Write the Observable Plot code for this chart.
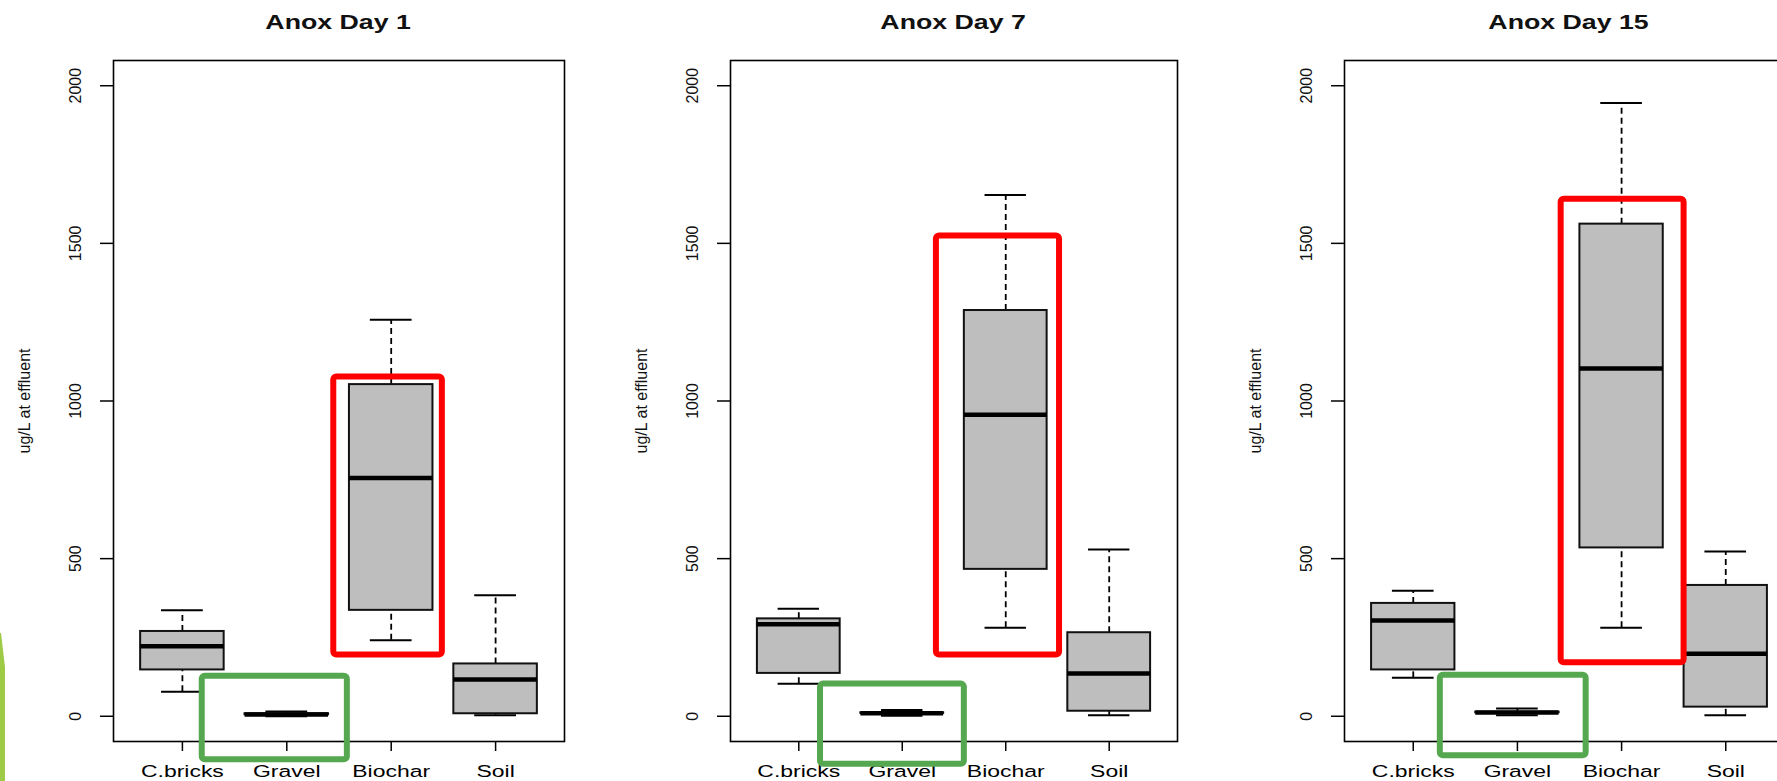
<!DOCTYPE html>
<html>
<head>
<meta charset="utf-8">
<script src="https://cdn.jsdelivr.net/npm/d3@7"></script>
<script src="https://cdn.jsdelivr.net/npm/@observablehq/plot@0.6"></script>
<style>
html,body{margin:0;padding:0;background:#fff;width:1777px;height:781px;overflow:hidden;}
#wrap{position:relative;width:1800px;height:781px;}
.panel{position:absolute;top:0;width:600px;height:781px;}
.title{position:absolute;top:0;height:44px;line-height:44px;text-align:center;font-family:"Liberation Sans",Arial,sans-serif;font-weight:bold;font-size:19.5px;color:#111;white-space:nowrap;}
.title span{display:inline-block;transform:scaleX(1.37);}
.panel svg{position:absolute;top:44px;left:0;overflow:visible;}
.lime{position:absolute;left:0;top:633px;width:5px;height:148px;background:#9fca45;clip-path:polygon(0 0,1px 0,5px 34px,5px 148px,0 148px);}
g[aria-label="x-axis tick label"]{font-size:17px;}
</style>
</head>
<body>
<div id="wrap"></div>
<div class="lime"></div>
<script>
const categories = ["C.bricks", "Gravel", "Biochar", "Soil"];
const titles = ["Anox Day 1", "Anox Day 7", "Anox Day 15"];
const yTicks = [0, 500, 1000, 1500, 2000];
const yLabel = "ug/L at effluent";

// five-number summaries per category: [lower whisker, Q1, median, Q3, upper whisker]
const day1 = [[78, 147, 222, 269, 336], [0, 5, 6, 8, 15], [241, 336, 756, 1052, 1258], [3, 8, 117, 166, 384]];
const day7 = [[103, 136, 292, 309, 341], [2, 9, 10, 11, 20], [281, 466, 956, 1287, 1653], [3, 16, 136, 265, 529]];
const day15 = [[122, 147, 304, 358, 398], [3, 11, 12, 13, 25], [281, 534, 1103, 1561, 1945], [3, 29, 198, 415, 523]];

// highlight boxes in data units: [x from, x to, value from, value to]
const redBox1 = [2.45, 3.49, 194, 1076];
const redBox7 = [2.33, 3.52, 194, 1523];
const redBox15 = [2.42, 3.60, 170, 1640];
const greenBox1 = [1.19, 2.58, -138, 127];
const greenBox7 = [1.21, 2.60, -152, 102];
const greenBox15 = [1.26, 2.66, -125, 130];

const panels = [
  {stats: day1, red: redBox1, green: greenBox1, title: titles[0], left: 0, ml: 113, mr: 36},
  {stats: day7, red: redBox7, green: greenBox7, title: titles[1], left: 600, ml: 130, mr: 23},
  {stats: day15, red: redBox15, green: greenBox15, title: titles[2], left: 1200, ml: 144, mr: 6}
];

const FONT = '"Liberation Sans", Arial, Helvetica, sans-serif';

function stretch(nodes, kx, ky) {
  nodes.forEach(t => {
    let tr = t.getAttribute("transform") || "";
    const x = t.getAttribute("x");
    if (x !== null && !isNaN(+x)) { tr += ` translate(${x},0)`; t.removeAttribute("x"); }
    t.setAttribute("transform", `${tr} scale(${kx},${ky})`);
  });
}

const wrap = document.getElementById("wrap");
panels.forEach(p => {
  const rows = p.stats.map((s, i) => ({pos: i + 1, lo: s[0], q1: s[1], med: s[2], q3: s[3], hi: s[4]}));
  const toBox = b => ({x1: b[0], x2: b[1], y1: b[2], y2: b[3]});
  const div = document.createElement("div");
  div.className = "panel";
  div.style.left = p.left + "px";
  const t = document.createElement("div");
  t.className = "title";
  t.style.left = p.ml + "px";
  t.style.width = (600 - p.ml - p.mr) + "px";
  t.innerHTML = `<span>${p.title}</span>`;
  div.appendChild(t);

  const svg = Plot.plot({
    width: 600,
    height: 737,
    marginLeft: p.ml,
    marginRight: p.mr,
    marginTop: 16,
    marginBottom: 40,
    x: {type: "linear", domain: [0.34, 4.66]},
    y: {domain: [-80, 2080]},
    style: {fontFamily: FONT, fontSize: "16px", color: "#000", background: "transparent", overflow: "visible"},
    marks: [
      Plot.ruleX(rows, {x: "pos", y1: "q3", y2: "hi", stroke: "#000", strokeWidth: 1.8, strokeDasharray: "6,4"}),
      Plot.ruleX(rows, {x: "pos", y1: "lo", y2: "q1", stroke: "#000", strokeWidth: 1.8, strokeDasharray: "6,4"}),
      Plot.ruleY(rows, {y: "hi", x1: d => d.pos - 0.2, x2: d => d.pos + 0.2, stroke: "#000", strokeWidth: 2}),
      Plot.ruleY(rows, {y: "lo", x1: d => d.pos - 0.2, x2: d => d.pos + 0.2, stroke: "#000", strokeWidth: 2}),
      Plot.rect(rows, {x1: d => d.pos - 0.4, x2: d => d.pos + 0.4, y1: "q1", y2: "q3", fill: "#bebebe", stroke: "#111", strokeWidth: 2}),
      Plot.ruleY(rows, {y: "med", x1: d => d.pos - 0.4, x2: d => d.pos + 0.4, stroke: "#000", strokeWidth: 4.5}),
      Plot.frame({stroke: "#000", strokeWidth: 1.6}),
      Plot.axisX({ticks: [1, 2, 3, 4], tickFormat: d => categories[d - 1], tickSize: 10, tickPadding: 13, fontSize: 17, label: null, strokeWidth: 1.5}),
      Plot.axisY({ticks: yTicks, tickSize: 13, tickFormat: () => "", label: null, strokeWidth: 1.5}),
      Plot.text(yTicks, {y: d => d, frameAnchor: "left", text: d => String(d), rotate: -90, dx: -38, fontSize: 16, textAnchor: "middle", lineAnchor: "middle", fill: "#111", ariaLabel: "ytl"}),
      Plot.text([yLabel], {frameAnchor: "left", text: d => d, rotate: -90, dx: -89, fontSize: 16, textAnchor: "middle", lineAnchor: "middle", fill: "#111", ariaLabel: "ylab"}),
      Plot.rect([toBox(p.red)], {x1: "x1", x2: "x2", y1: "y1", y2: "y2", fill: "none", stroke: "#ff0000", strokeWidth: 6, rx: 3}),
      Plot.rect([toBox(p.green)], {x1: "x1", x2: "x2", y1: "y1", y2: "y2", fill: "none", stroke: "#55a84f", strokeWidth: 6, rx: 3})
    ]
  });
  stretch(svg.querySelectorAll('g[aria-label="x-axis tick label"] text'), 1.35, 1);
  stretch(svg.querySelectorAll('g[aria-label="ytl"] text'), 1, 1.3);
  stretch(svg.querySelectorAll('g[aria-label="ylab"] text'), 1, 1.2);
  div.appendChild(svg);
  wrap.appendChild(div);
});
</script>
</body>
</html>
